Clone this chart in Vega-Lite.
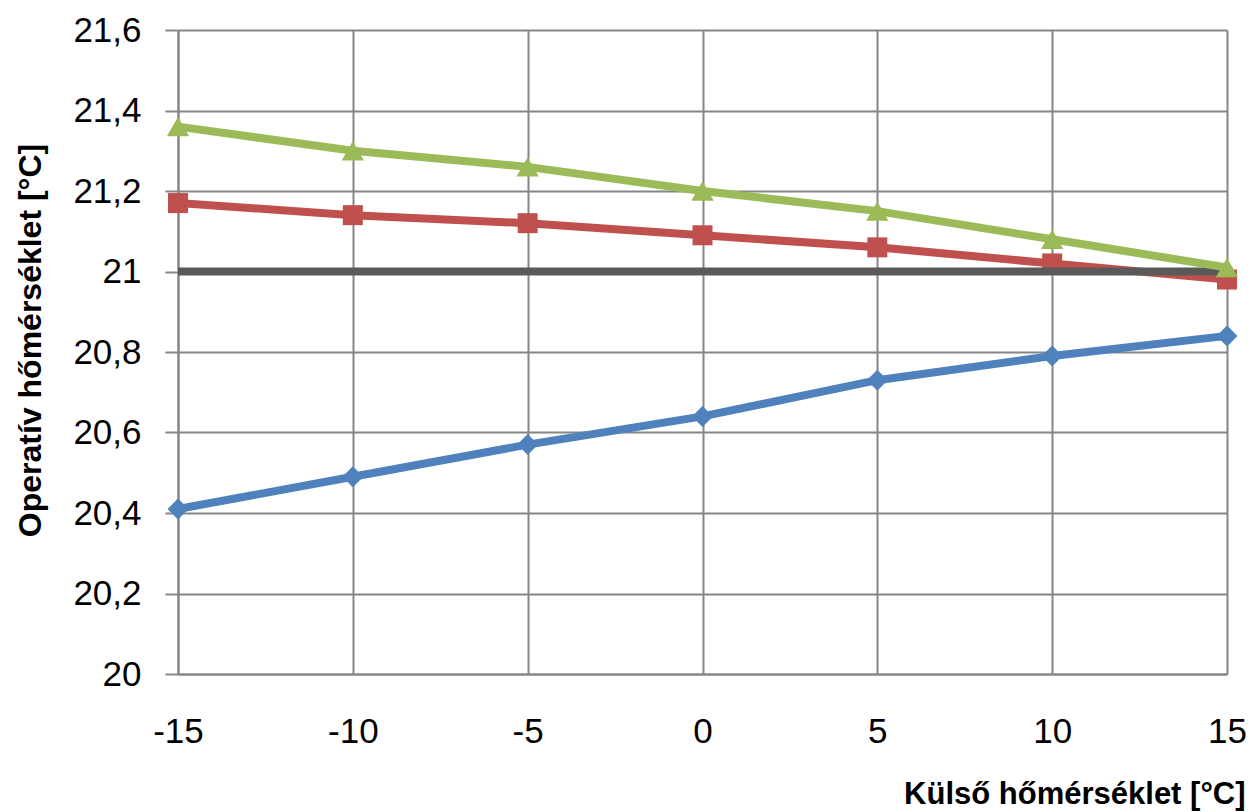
{
  "$schema": "https://vega.github.io/schema/vega-lite/v6.json",
  "width": 1049,
  "height": 644,
  "autosize": {"type": "none"},
  "padding": {"left": 178, "top": 30, "right": 23, "bottom": 138},
  "background": "white",
  "config": {"view": {"stroke": null}},
  "data": {
    "values": [
      {"x": -15, "y": 20.41, "s": "A"}, {"x": -10, "y": 20.49, "s": "A"}, {"x": -5, "y": 20.57, "s": "A"}, {"x": 0, "y": 20.64, "s": "A"}, {"x": 5, "y": 20.73, "s": "A"}, {"x": 10, "y": 20.79, "s": "A"}, {"x": 15, "y": 20.84, "s": "A"},
      {"x": -15, "y": 21.17, "s": "B"}, {"x": -10, "y": 21.14, "s": "B"}, {"x": -5, "y": 21.12, "s": "B"}, {"x": 0, "y": 21.09, "s": "B"}, {"x": 5, "y": 21.06, "s": "B"}, {"x": 10, "y": 21.02, "s": "B"}, {"x": 15, "y": 20.98, "s": "B"},
      {"x": -15, "y": 21.0, "s": "R"}, {"x": -10, "y": 21.0, "s": "R"}, {"x": -5, "y": 21.0, "s": "R"}, {"x": 0, "y": 21.0, "s": "R"}, {"x": 5, "y": 21.0, "s": "R"}, {"x": 10, "y": 21.0, "s": "R"}, {"x": 15, "y": 21.0, "s": "R"},
      {"x": -15, "y": 21.36, "s": "C"}, {"x": -10, "y": 21.30, "s": "C"}, {"x": -5, "y": 21.26, "s": "C"}, {"x": 0, "y": 21.20, "s": "C"}, {"x": 5, "y": 21.15, "s": "C"}, {"x": 10, "y": 21.08, "s": "C"}, {"x": 15, "y": 21.01, "s": "C"}
    ]
  },
  "encoding": {
    "x": {
      "field": "x", "type": "quantitative",
      "scale": {"domain": [-15, 15], "nice": false, "zero": false},
      "axis": {
        "values": [-15, -10, -5, 0, 5, 10, 15],
        "format": "d",
        "labelExpr": "replace(datum.label, '\u2212', '-')",
        "labelFlush": false,
        "title": "Külső hőmérséklet [°C]",
        "titleFont": "Liberation Sans", "titleFontWeight": "bold", "titleFontSize": 31, "titleColor": "black",
        "titleAnchor": "end", "titleAlign": "right", "titleX": 1067, "titleY": 105, "titleBaseline": "top",
        "labelFont": "Liberation Sans", "labelFontSize": 35, "labelColor": "black", "labelPadding": 40,
        "grid": true, "gridColor": "#868686", "gridWidth": 2,
        "domainColor": "#868686", "domainWidth": 2,
        "ticks": false
      }
    },
    "y": {
      "field": "y", "type": "quantitative",
      "scale": {"domain": [20, 21.6], "nice": false, "zero": false},
      "axis": {
        "values": [20, 20.2, 20.4, 20.6, 20.8, 21, 21.2, 21.4, 21.6],
        "format": ".1~f",
        "labelExpr": "replace(datum.label, '.', ',')",
        "title": "Operatív hőmérséklet [°C]",
        "titleFont": "Liberation Sans", "titleFontWeight": "bold", "titleFontSize": 32, "titleColor": "black",
        "titleX": -148, "titleY": 310, "titleAngle": -90, "titleBaseline": "middle", "titleAlign": "center",
        "labelFont": "Liberation Sans", "labelFontSize": 35, "labelColor": "black", "labelPadding": 24,
        "grid": true, "gridColor": "#868686", "gridWidth": 2,
        "domainColor": "#868686", "domainWidth": 2,
        "ticks": true, "tickColor": "#868686", "tickWidth": 2, "tickSize": 13
      }
    },
    "color": {
      "field": "s", "type": "nominal",
      "scale": {"domain": ["A", "B", "R", "C"], "range": ["#4F81BD", "#C0504D", "#595959", "#9BBB59"]},
      "legend": null
    }
  },
  "layer": [
    {"transform": [{"filter": "datum.s === 'A'"}], "mark": {"type": "line", "strokeWidth": 8, "point": {"shape": "diamond", "size": 440, "filled": true, "opacity": 1}}},
    {"transform": [{"filter": "datum.s === 'B'"}], "mark": {"type": "line", "strokeWidth": 8, "point": {"shape": "square", "size": 400, "filled": true, "opacity": 1}}},
    {"transform": [{"filter": "datum.s === 'R'"}], "mark": {"type": "line", "strokeWidth": 8}},
    {"transform": [{"filter": "datum.s === 'C'"}], "mark": {"type": "line", "strokeWidth": 8, "point": {"shape": "triangle-up", "size": 500, "filled": true, "opacity": 1}}}
  ]
}
